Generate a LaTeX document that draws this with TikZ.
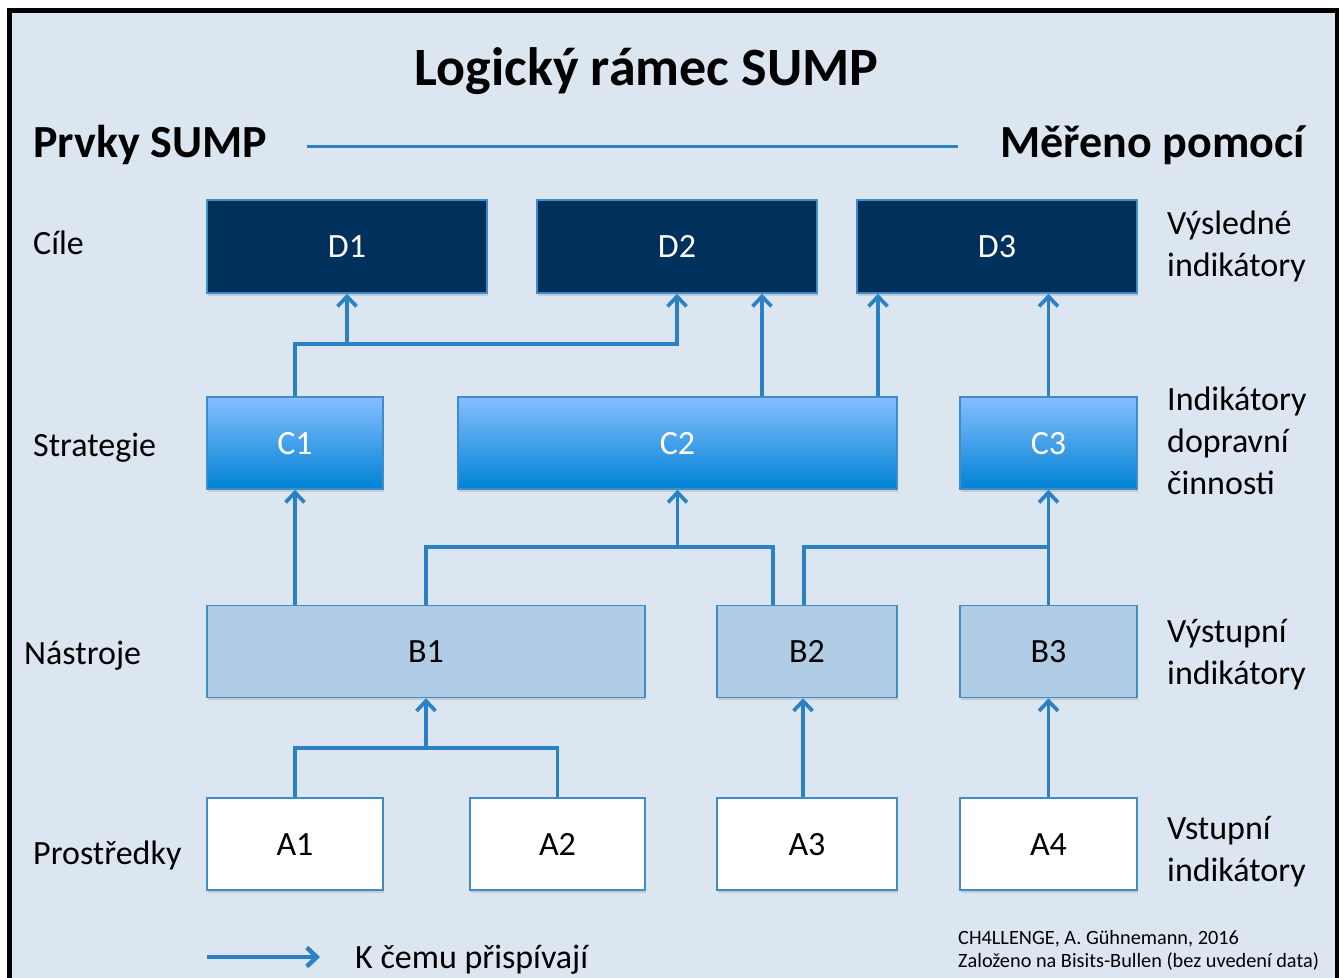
\documentclass[tikz,border=0pt]{standalone}
\usepackage{fontspec}
\setmainfont{Carlito}
\usetikzlibrary{arrows.meta,shadows}

\definecolor{bgblue}{RGB}{219,230,241}
\definecolor{linkblue}{RGB}{42,130,196}
\definecolor{edgeblue}{RGB}{62,141,200}
\definecolor{navy}{RGB}{0,48,92}
\definecolor{stratTop}{RGB}{134,190,255}
\definecolor{stratBot}{RGB}{0,130,212}
\definecolor{toolblue}{RGB}{176,205,229}

\begin{document}
\begin{tikzpicture}[x=1pt, y=-1pt,
  txt/.style={font=\fontsize{34}{42}\selectfont, inner sep=0pt},
  box/.style={draw=edgeblue, line width=1.5pt, inner sep=0pt, minimum height=92pt,
    font=\fontsize{34}{40}\selectfont, text height=22pt, text depth=0pt,
    drop shadow={opacity=.25, shadow xshift=1pt, shadow yshift=-2.5pt}},
  goal/.style={box, fill=navy, text=white},
  strat/.style={box, top color=stratTop, bottom color=stratBot, text=white},
  tool/.style={box, fill=toolblue},
  means/.style={box, fill=white},
  conn/.style={draw=linkblue, line width=3.7pt},
  contrib/.style={conn, -{Straight Barb[length=10pt, width=19pt]}}]
  \useasboundingbox (0,0) rectangle (1340,977);
  \fill[bgblue] (9.5,10.5) rectangle (1337,995);
  \draw[line width=4.5pt] (9.5,995) |- (1337,10.5) -- (1337,995);

  % title and headers
  \node[anchor=base, font=\fontsize{54}{60}\selectfont\bfseries] (title) at (646.5,85) {Logický rámec SUMP};
  \node[txt, anchor=base west, font=\fontsize{46}{50}\selectfont\bfseries] (elements) at (33,157) {Prvky SUMP};
  \node[txt, anchor=base east, font=\fontsize{46}{50}\selectfont\bfseries] (measured) at (1305,157) {Měřeno pomocí};
  \draw[conn, line width=3pt] ([shift={(40pt,11pt)}]elements.base east) -- ([shift={(-42pt,11pt)}]measured.base west);

  % boxes
  \foreach \n/\x/\w in {D1/347/280, D2/677/280, D3/997/280}
    \node[goal, minimum width=\w pt, minimum height=93pt] (\n) at (\x,246.5) {\n};
  \foreach \n/\x/\w in {C1/295/176, C2/677.5/439, C3/1048.5/177}
    \node[strat, minimum width=\w pt] (\n) at (\x,443) {\n};
  \foreach \n/\x/\w in {B1/426/438, B2/807/180, B3/1048.5/177}
    \node[tool, minimum width=\w pt] (\n) at (\x,651.5) {\n};
  \foreach \n/\x/\w in {A1/295/176, A2/557.5/175, A3/807/180, A4/1048.5/177}
    \node[means, minimum width=\w pt] (\n) at (\x,844) {\n};

  % row labels
  \node[txt, anchor=base west] (goals) at (33,254) {Cíle};
  \node[txt, anchor=base west] (strategies) at (33,456) {Strategie};
  \node[txt, anchor=base west] (tools) at (24,664) {Nástroje};
  \node[txt, anchor=base west] (means) at (33,864) {Prostředky};
  \node[txt, anchor=west, align=left] (outcomeind) at (1167,246) {Výsledné\\indikátory};
  \node[txt, anchor=west, align=left] (activityind) at (1167,441) {Indikátory\\dopravní\\činnosti};
  \node[txt, anchor=west, align=left] (outputind) at (1167,655) {Výstupní\\indikátory};
  \node[txt, anchor=west, align=left] (inputind) at (1167,852) {Vstupní\\indikátory};

  % strategies -> goals
  \coordinate (busD) at (0,344);
  \draw[contrib] (C1.north) |- (D2.south |- busD) -- (D2.south);
  \draw[contrib] (D1.south |- busD) -- (D1.south);
  \draw[contrib] (762,0 |- C2.north) -- (762,0 |- D2.south);
  \draw[contrib] (878,0 |- C2.north) -- (878,0 |- D3.south);
  \draw[contrib] (C3.north) -- (C3.north |- D3.south);

  % tools -> strategies
  \coordinate (busC) at (0,547);
  \draw[contrib] (B1.north -| C1.south) -- (C1.south);
  \draw[conn] (426,0 |- B1.north) |- (773,0 |- busC) -- (773,0 |- B2.north);
  \draw[contrib] (C2.south |- busC) -- (C2.south);
  \draw[conn] (804,0 |- B2.north) |- (C3.south |- busC);
  \draw[contrib] (B3.north) -- (C3.south);

  % means -> tools
  \coordinate (busB) at (0,748);
  \draw[conn] (A1.north) |- (A2.north |- busB) -- (A2.north);
  \draw[contrib] (B1.south |- busB) -- (B1.south);
  \draw[contrib] (803,0 |- A3.north) -- (803,0 |- B2.south);
  \draw[contrib] (A4.north) -- (B3.south);

  % legend
  \node[txt, anchor=base west] (legend) at (355,968) {K čemu přispívají};
  \coordinate (legendtail) at (207,957);
  \draw[contrib, line width=4.5pt] (legendtail) -- (legendtail -| 320,0);
  \node[txt, anchor=base west, font=\fontsize{20.3}{23}\selectfont] (credit) at (958,944) {CH4LLENGE, A. Gühnemann, 2016};
  \node[txt, anchor=base west, font=\fontsize{20.3}{23}\selectfont] (source) at (958,967) {Založeno na Bisits-Bullen (bez uvedení data)};
\end{tikzpicture}
\end{document}
